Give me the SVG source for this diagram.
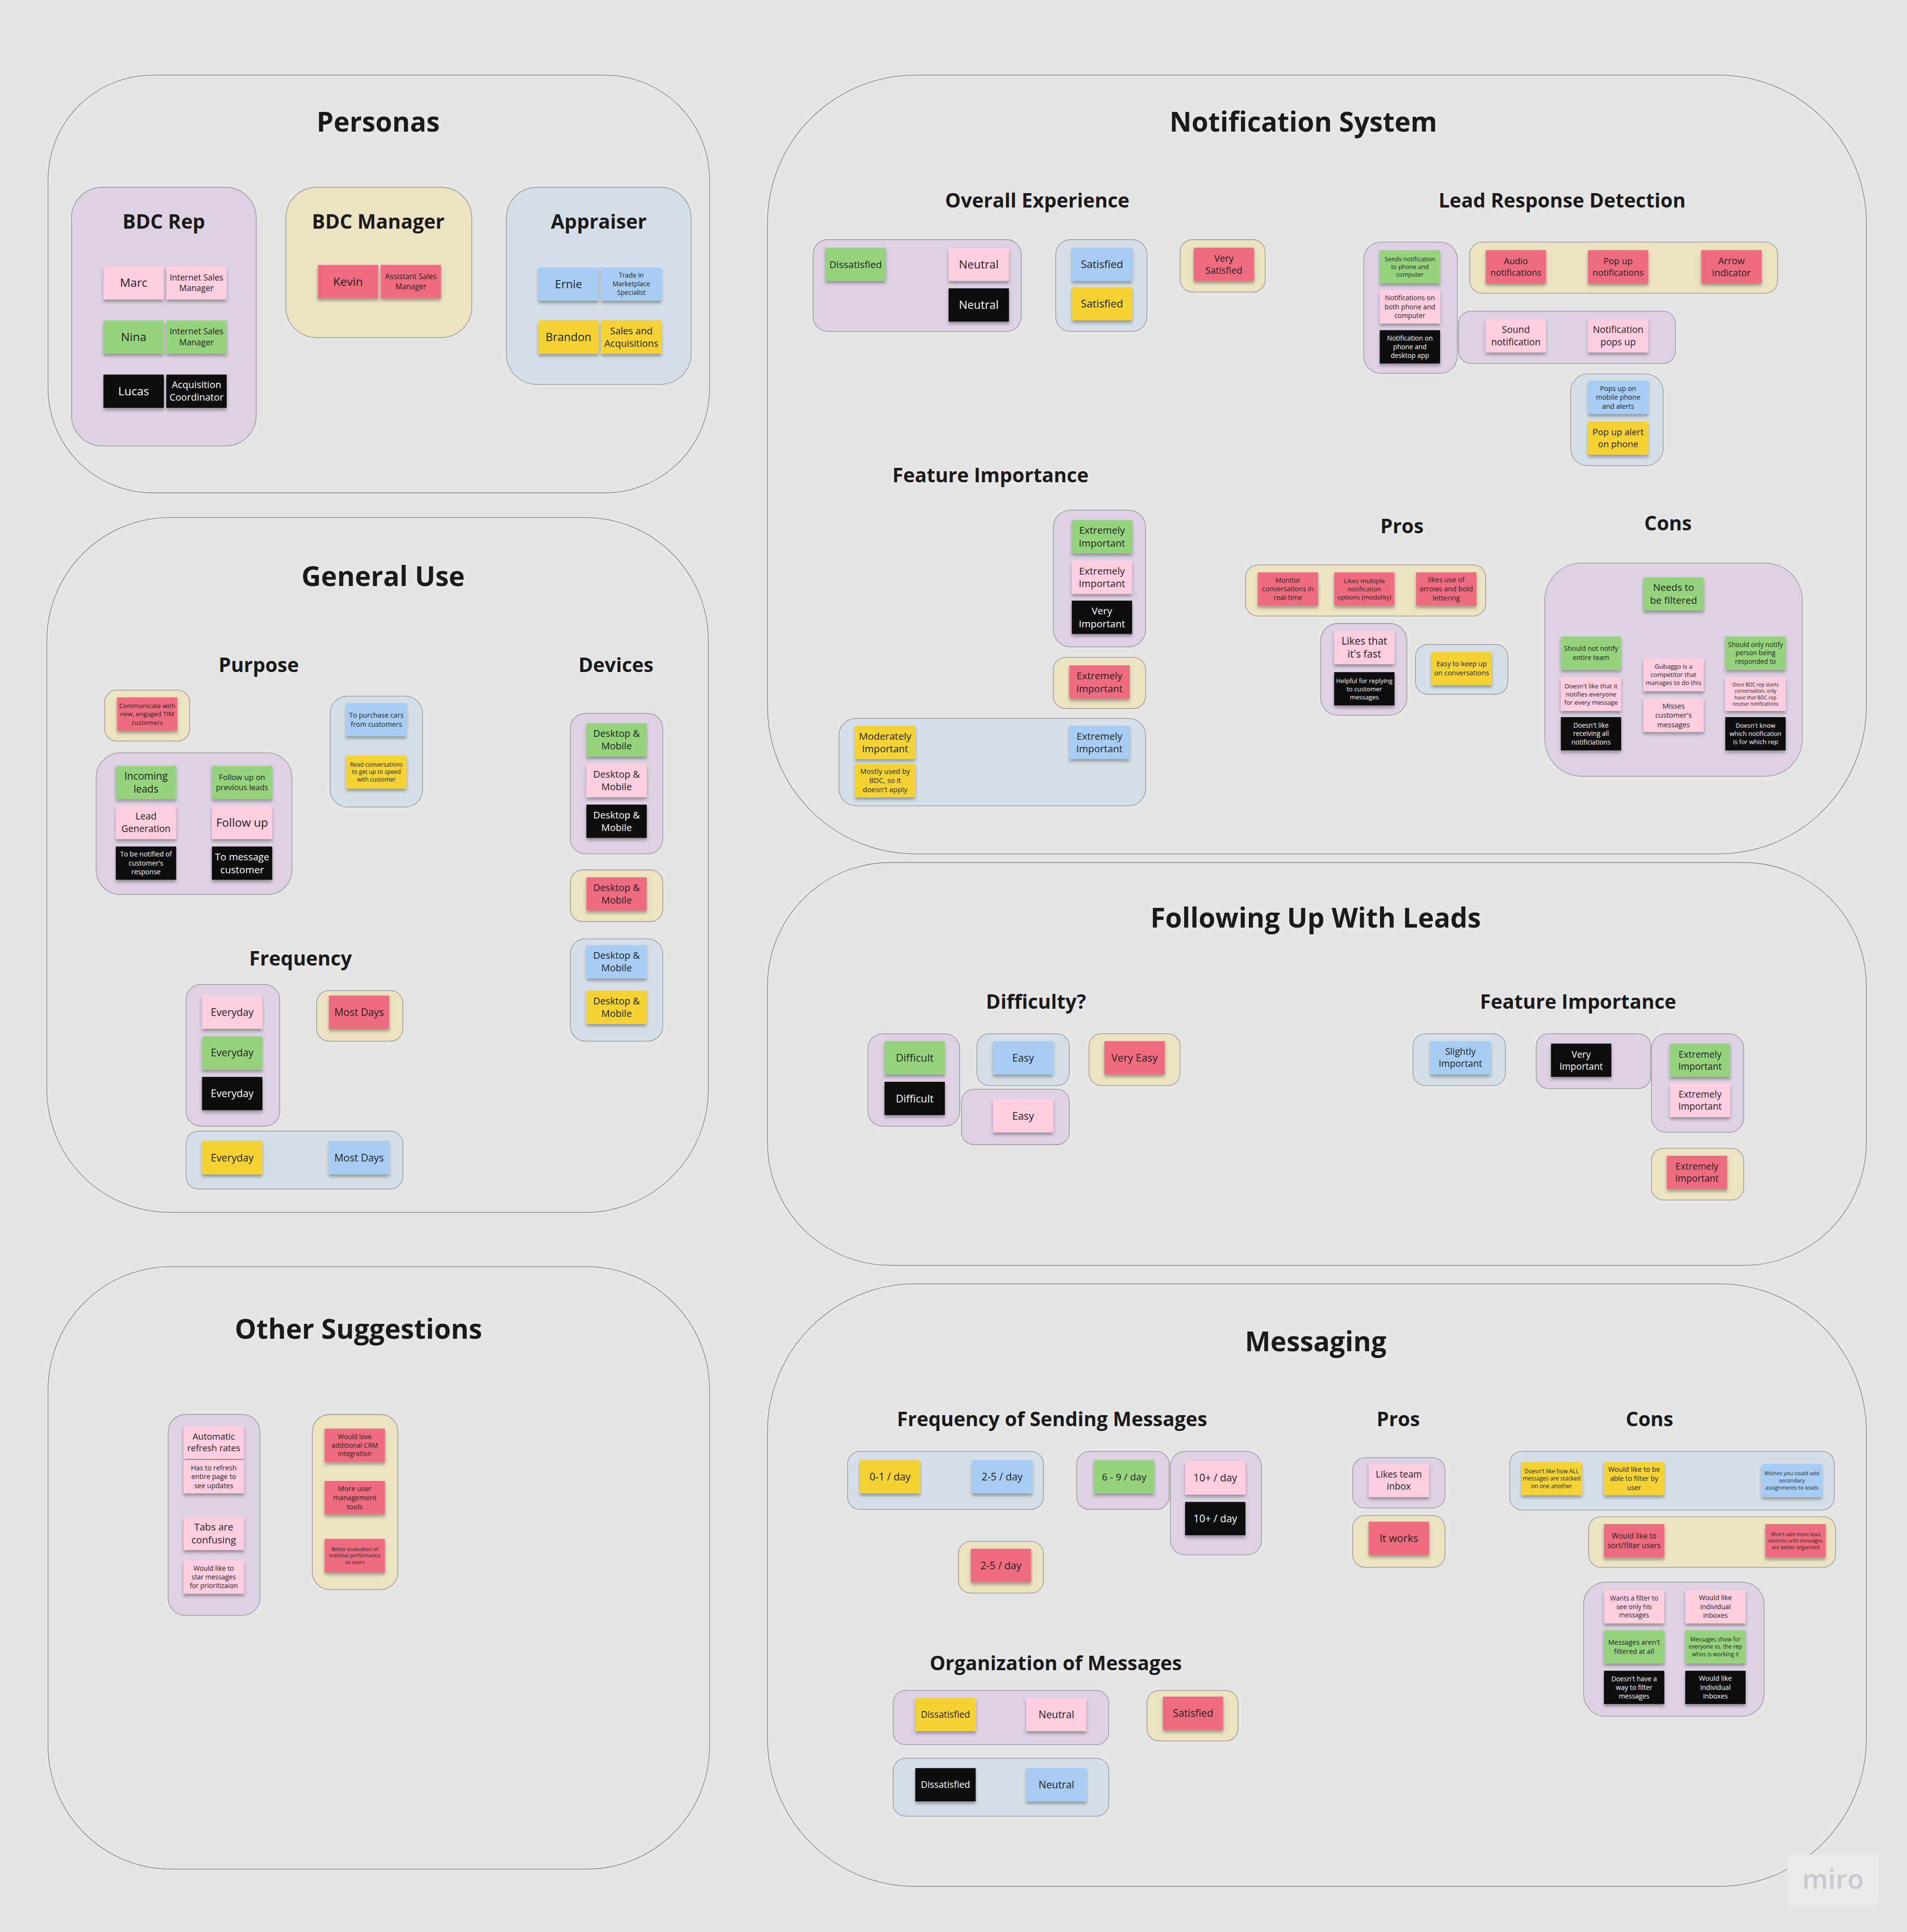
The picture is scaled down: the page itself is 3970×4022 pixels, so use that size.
<svg xmlns="http://www.w3.org/2000/svg" width="3970" height="4022" viewBox="0 0 3970 4022">
<defs>
<filter id="sh" x="-10%" y="-10%" width="120%" height="145%"><feDropShadow dx="0" dy="2" stdDeviation="1.2" flood-color="#000" flood-opacity="0.32"/></filter>
<style>
.s{filter:url(#sh)}
.pk{fill:#fecde0}.gr{fill:#95d37d}.bk{fill:#0b0b0b}.rd{fill:#ef6c80}.bl{fill:#a8cdf4}.yl{fill:#f5d330}
.c{stroke:#9c9c9c;stroke-width:.6}
.cp{fill:#ddd2e3}.cy{fill:#ece3c2}.cb{fill:#d6dfe8}
.f{fill:none;stroke:#7d7d7d;stroke-width:.5}
.t{font-family:'Open Sans','Liberation Sans',sans-serif;text-anchor:middle;fill:#1f1f1f}
.tw{fill:#ffffff}
.h1{font-family:'Open Sans','Liberation Sans',sans-serif;font-weight:700;font-size:22px;text-anchor:middle;fill:#1a1a1a}
.h2{font-family:'Open Sans','Liberation Sans',sans-serif;font-weight:700;font-size:16px;text-anchor:middle;fill:#1a1a1a}
</style>
</defs>
<rect x="0" y="0" width="3970" height="4022" fill="#e6e6e6"/>
<g transform="scale(2.5646 2.5650)">
<g id="frame-personas"><rect class="f" x="39" y="61" width="537" height="339" rx="85"/><text class="h1" x="307" y="106.7">Personas</text></g>
<g id="frame-notification"><rect class="f" x="623" y="61" width="892" height="632" rx="120"/><text class="h1" x="1058" y="106.7">Notification System</text>
<text class="h2" x="842" y="168.6">Overall Experience</text><text class="h2" x="1268" y="168.6">Lead Response Detection</text><text class="h2" x="804" y="391.6">Feature Importance</text><text class="h2" x="1138" y="432.6">Pros</text><text class="h2" x="1354" y="430.6">Cons</text></g>
<g id="frame-general"><rect class="f" x="38" y="420" width="537" height="564" rx="100"/><text class="h1" x="311" y="475.7">General Use</text>
<text class="h2" x="210" y="545.6">Purpose</text><text class="h2" x="500" y="545.6">Devices</text><text class="h2" x="244" y="783.6">Frequency</text></g>
<g id="frame-following"><rect class="f" x="623" y="700" width="892" height="327" rx="100"/><text class="h1" x="1068" y="752.7">Following Up With Leads</text>
<text class="h2" x="841" y="818.6">Difficulty?</text><text class="h2" x="1281" y="818.6">Feature Importance</text></g>
<g id="frame-other"><rect class="f" x="39" y="1028" width="537" height="489" rx="100"/><text class="h1" x="291" y="1086.7">Other Suggestions</text></g>
<g id="frame-messaging"><rect class="f" x="623" y="1042" width="892" height="489" rx="120"/><text class="h1" x="1068" y="1096.7">Messaging</text>
<text class="h2" x="854" y="1157.6">Frequency of Sending Messages</text><text class="h2" x="1135" y="1157.6">Pros</text><text class="h2" x="1339" y="1157.6">Cons</text><text class="h2" x="857" y="1355.6">Organization of Messages</text></g>

<g id="containers">
<g id="c1"><rect class="c cp" x="58" y="152" width="150" height="210" rx="25"/><text class="h2" x="133" y="185.6">BDC Rep</text></g>
<g id="c2"><rect class="c cy" x="232" y="152" width="151" height="122" rx="25"/><text class="h2" x="307" y="185.6">BDC Manager</text></g>
<g id="c3"><rect class="c cb" x="411" y="152" width="150" height="160" rx="25"/><text class="h2" x="486" y="185.6">Appraiser</text></g>
<g id="c4"><rect class="c cp" x="660" y="194.5" width="169" height="74.5" rx="12"/></g>
<g id="c5"><rect class="c cb" x="857" y="194.5" width="74" height="74.5" rx="12"/></g>
<g id="c6"><rect class="c cy" x="958" y="194.5" width="69" height="42.5" rx="10"/></g>
<g id="c7"><rect class="c cp" x="1107" y="196.5" width="76" height="106.5" rx="14"/></g>
<g id="c8"><rect class="c cy" x="1193" y="196.5" width="250" height="41.5" rx="10"/></g>
<g id="c9"><rect class="c cp" x="1184" y="252.5" width="176" height="42.5" rx="10"/></g>
<g id="c10"><rect class="c cb" x="1275" y="303.5" width="75" height="74.5" rx="14"/></g>
<g id="c11"><rect class="c cp" x="855" y="414" width="75" height="111" rx="14"/></g>
<g id="c12"><rect class="c cy" x="855" y="533.5" width="75" height="41.5" rx="10"/></g>
<g id="c13"><rect class="c cb" x="681" y="583" width="249" height="71" rx="14"/></g>
<g id="c14"><rect class="c cy" x="1011" y="458.5" width="195" height="41.5" rx="10"/></g>
<g id="c15"><rect class="c cp" x="1072" y="506" width="70" height="74.5" rx="14"/></g>
<g id="c16"><rect class="c cb" x="1149" y="523" width="75" height="40.5" rx="10"/></g>
<g id="c17"><rect class="c cp" x="1254" y="457" width="209" height="173" rx="30"/></g>
<g id="c18"><rect class="c cy" x="85" y="560" width="69" height="41.5" rx="10"/></g>
<g id="c19"><rect class="c cp" x="78" y="611" width="159" height="115" rx="20"/></g>
<g id="c20"><rect class="c cb" x="268" y="565" width="75" height="90" rx="14"/></g>
<g id="c21"><rect class="c cp" x="463" y="579" width="75" height="114" rx="12"/></g>
<g id="c22"><rect class="c cy" x="463" y="706" width="75" height="42" rx="10"/></g>
<g id="c23"><rect class="c cb" x="463" y="762" width="75" height="83" rx="12"/></g>
<g id="c24"><rect class="c cp" x="151" y="799" width="76" height="115" rx="12"/></g>
<g id="c25"><rect class="c cy" x="257" y="804" width="70" height="41" rx="10"/></g>
<g id="c26"><rect class="c cb" x="151" y="918" width="176" height="47" rx="10"/></g>
<g id="c27"><rect class="c cp" x="704.5" y="839" width="74.5" height="75" rx="12"/></g>
<g id="c28"><rect class="c cb" x="793" y="839" width="75" height="42" rx="10"/></g>
<g id="c29"><rect class="c cp" x="780.5" y="884" width="87.5" height="45" rx="10"/></g>
<g id="c30"><rect class="c cy" x="884" y="839" width="74" height="42" rx="10"/></g>
<g id="c31"><rect class="c cb" x="1147" y="839" width="75" height="42" rx="10"/></g>
<g id="c32"><rect class="c cp" x="1247" y="839" width="93" height="44.5" rx="10"/></g>
<g id="c33"><rect class="c cp" x="1340.5" y="839" width="75" height="80" rx="12"/></g>
<g id="c34"><rect class="c cy" x="1340.5" y="932" width="75" height="42" rx="10"/></g>
<g id="c35"><rect class="c cp" x="136.5" y="1148" width="74.5" height="163" rx="14"/></g>
<g id="c36"><rect class="c cy" x="253.5" y="1148" width="69.5" height="142" rx="14"/></g>
<g id="c37"><rect class="c cb" x="688" y="1178" width="159" height="47" rx="10"/></g>
<g id="c38"><rect class="c cp" x="874" y="1178" width="75" height="47" rx="10"/></g>
<g id="c39"><rect class="c cp" x="950" y="1178" width="74" height="84" rx="12"/></g>
<g id="c40"><rect class="c cy" x="778" y="1251" width="69" height="42" rx="10"/></g>
<g id="c41"><rect class="c cp" x="725" y="1372" width="175" height="44" rx="10"/></g>
<g id="c42"><rect class="c cy" x="931" y="1372" width="74" height="41" rx="10"/></g>
<g id="c43"><rect class="c cb" x="725" y="1427" width="175" height="47" rx="10"/></g>
<g id="c44"><rect class="c cp" x="1098" y="1183" width="75" height="41" rx="10"/></g>
<g id="c45"><rect class="c cy" x="1098" y="1230" width="75" height="42" rx="10"/></g>
<g id="c46"><rect class="c cb" x="1225.5" y="1178" width="263.5" height="47.5" rx="10"/></g>
<g id="c47"><rect class="c cy" x="1289.5" y="1231" width="200.5" height="41" rx="10"/></g>
<g id="c48"><rect class="c cp" x="1285.5" y="1284" width="146.5" height="109" rx="18"/></g>
</g>

<g id="stickies">
<g id="n1"><rect class="s pk" x="84" y="216" width="49" height="27"/><text class="t" x="108.5" y="232.9" font-size="9.5">Marc</text></g>
<g id="n2"><rect class="s pk" x="135" y="216" width="49" height="27"/><text class="t" x="159.5" y="227.5" font-size="6.8"><tspan x="159.5">Internet Sales</tspan><tspan x="159.5" dy="8.84">Manager</tspan></text></g>
<g id="n3"><rect class="s gr" x="84" y="260" width="49" height="27"/><text class="t" x="108.5" y="276.9" font-size="9.5">Nina</text></g>
<g id="n4"><rect class="s gr" x="135" y="260" width="49" height="27"/><text class="t" x="159.5" y="271.5" font-size="6.8"><tspan x="159.5">Internet Sales</tspan><tspan x="159.5" dy="8.84">Manager</tspan></text></g>
<g id="n5"><rect class="s bk" x="84" y="304" width="49" height="27"/><text class="t tw" x="108.5" y="320.9" font-size="9.5">Lucas</text></g>
<g id="n6"><rect class="s bk" x="135" y="304" width="49" height="27"/><text class="t tw" x="159.5" y="315.2" font-size="7.8"><tspan x="159.5">Acquisition</tspan><tspan x="159.5" dy="10.14">Coordinator</tspan></text></g>
<g id="n7"><rect class="s rd" x="258" y="215" width="49" height="27"/><text class="t" x="282.5" y="231.9" font-size="9.5">Kevin</text></g>
<g id="n8"><rect class="s rd" x="309" y="215" width="49" height="27"/><text class="t" x="333.5" y="226.7" font-size="6.1"><tspan x="333.5">Assistant Sales</tspan><tspan x="333.5" dy="7.93">Manager</tspan></text></g>
<g id="n9"><rect class="s bl" x="437" y="217" width="49" height="27"/><text class="t" x="461.5" y="233.8" font-size="9.2">Ernie</text></g>
<g id="n10"><rect class="s bl" x="488" y="217" width="49" height="27"/><text class="t" x="512.5" y="225.5" font-size="5.3"><tspan x="512.5">Trade In</tspan><tspan x="512.5" dy="6.89">Marketplace</tspan><tspan x="512.5" dy="6.89">Specialist</tspan></text></g>
<g id="n11"><rect class="s yl" x="437" y="260" width="49" height="27"/><text class="t" x="461.5" y="276.8" font-size="9.2">Brandon</text></g>
<g id="n12"><rect class="s yl" x="488" y="260" width="49" height="27"/><text class="t" x="512.5" y="271.2" font-size="7.8"><tspan x="512.5">Sales and</tspan><tspan x="512.5" dy="10.14">Acquisitions</tspan></text></g>

<g id="n13"><rect class="s gr" x="670" y="201" width="49" height="27"/><text class="t" x="694.5" y="217.4" font-size="8">Dissatisfied</text></g>
<g id="n14"><rect class="s pk" x="770" y="201" width="49" height="27"/><text class="t" x="794.5" y="217.8" font-size="9.2">Neutral</text></g>
<g id="n15"><rect class="s bk" x="770" y="234" width="49" height="27"/><text class="t tw" x="794.5" y="250.8" font-size="9.2">Neutral</text></g>
<g id="n16"><rect class="s bl" x="870" y="201" width="49" height="27"/><text class="t" x="894.5" y="217.6" font-size="8.7">Satisfied</text></g>
<g id="n17"><rect class="s yl" x="870" y="233" width="49" height="27"/><text class="t" x="894.5" y="249.6" font-size="8.7">Satisfied</text></g>
<g id="n18"><rect class="s rd" x="969" y="201" width="49" height="27"/><text class="t" x="993.5" y="212.3" font-size="7.6"><tspan x="993.5">Very</tspan><tspan x="993.5" dy="9.88">Satisfied</tspan></text></g>

<g id="n19"><rect class="s gr" x="1120" y="203" width="49" height="27"/><text class="t" x="1144.5" y="211.9" font-size="4.9"><tspan x="1144.5">Sends notification</tspan><tspan x="1144.5" dy="6.37">to phone and</tspan><tspan x="1144.5" dy="6.37">computer</tspan></text></g>
<g id="n20"><rect class="s pk" x="1120" y="235.5" width="49" height="27"/><text class="t" x="1144.5" y="243.8" font-size="5.5"><tspan x="1144.5">Notifications on</tspan><tspan x="1144.5" dy="7.15">both phone and</tspan><tspan x="1144.5" dy="7.15">computer</tspan></text></g>
<g id="n21"><rect class="s bk" x="1120" y="268" width="49" height="27"/><text class="t tw" x="1144.5" y="276.4" font-size="5.4"><tspan x="1144.5">Notification on</tspan><tspan x="1144.5" dy="7.02">phone and</tspan><tspan x="1144.5" dy="7.02">desktop app</tspan></text></g>
<g id="n22"><rect class="s rd" x="1206" y="203" width="49" height="27"/><text class="t" x="1230.5" y="214.4" font-size="7.2"><tspan x="1230.5">Audio</tspan><tspan x="1230.5" dy="9.36">notifications</tspan></text></g>
<g id="n23"><rect class="s rd" x="1289" y="203" width="49" height="27"/><text class="t" x="1313.5" y="214.4" font-size="7.2"><tspan x="1313.5">Pop up</tspan><tspan x="1313.5" dy="9.36">notifications</tspan></text></g>
<g id="n24"><rect class="s rd" x="1381" y="203" width="49" height="27"/><text class="t" x="1405.5" y="214.3" font-size="7.6"><tspan x="1405.5">Arrow</tspan><tspan x="1405.5" dy="9.88">indicator</tspan></text></g>
<g id="n25"><rect class="s pk" x="1206" y="259" width="49" height="27"/><text class="t" x="1230.5" y="270.3" font-size="7.6"><tspan x="1230.5">Sound</tspan><tspan x="1230.5" dy="9.88">notification</tspan></text></g>
<g id="n26"><rect class="s pk" x="1289" y="259" width="49" height="27"/><text class="t" x="1313.5" y="270.3" font-size="7.6"><tspan x="1313.5">Notification</tspan><tspan x="1313.5" dy="9.88">pops up</tspan></text></g>
<g id="n27"><rect class="s bl" x="1289" y="309" width="49" height="27"/><text class="t" x="1313.5" y="317.2" font-size="5.6"><tspan x="1313.5">Pops up on</tspan><tspan x="1313.5" dy="7.28">mobile phone</tspan><tspan x="1313.5" dy="7.28">and alerts</tspan></text></g>
<g id="n28"><rect class="s yl" x="1289" y="342" width="49" height="27"/><text class="t" x="1313.5" y="353.4" font-size="7.3"><tspan x="1313.5">Pop up alert</tspan><tspan x="1313.5" dy="9.49">on phone</tspan></text></g>

<g id="n29"><rect class="s gr" x="870" y="422" width="49" height="27"/><text class="t" x="894.5" y="433.2" font-size="8"><tspan x="894.5">Extremely</tspan><tspan x="894.5" dy="10.4">Important</tspan></text></g>
<g id="n30"><rect class="s pk" x="870" y="455" width="49" height="27"/><text class="t" x="894.5" y="466.2" font-size="8"><tspan x="894.5">Extremely</tspan><tspan x="894.5" dy="10.4">Important</tspan></text></g>
<g id="n31"><rect class="s bk" x="870" y="487.5" width="49" height="27"/><text class="t tw" x="894.5" y="498.7" font-size="8"><tspan x="894.5">Very</tspan><tspan x="894.5" dy="10.4">Important</tspan></text></g>
<g id="n32"><rect class="s rd" x="868" y="540" width="49" height="27"/><text class="t" x="892.5" y="551.2" font-size="8"><tspan x="892.5">Extremely</tspan><tspan x="892.5" dy="10.4">Important</tspan></text></g>
<g id="n33"><rect class="s yl" x="694" y="589" width="49" height="27"/><text class="t" x="718.5" y="600.2" font-size="8"><tspan x="718.5">Moderately</tspan><tspan x="718.5" dy="10.4">Important</tspan></text></g>
<g id="n34"><rect class="s yl" x="694" y="620" width="49" height="27"/><text class="t" x="718.5" y="628" font-size="5.8"><tspan x="718.5">Mostly used by</tspan><tspan x="718.5" dy="7.54">BDC, so it</tspan><tspan x="718.5" dy="7.54">doesn't apply</tspan></text></g>
<g id="n35"><rect class="s bl" x="868" y="589" width="49" height="27"/><text class="t" x="892.5" y="600.2" font-size="8"><tspan x="892.5">Extremely</tspan><tspan x="892.5" dy="10.4">Important</tspan></text></g>

<g id="n36"><rect class="s rd" x="1021" y="464.5" width="49" height="27"/><text class="t" x="1045.5" y="472.8" font-size="5.5"><tspan x="1045.5">Monitor</tspan><tspan x="1045.5" dy="7.15">conversations in</tspan><tspan x="1045.5" dy="7.15">real-time</tspan></text></g>
<g id="n37"><rect class="s rd" x="1083" y="464.5" width="49" height="27"/><text class="t" x="1107.5" y="473.1" font-size="5.2"><tspan x="1107.5">Likes multiple</tspan><tspan x="1107.5" dy="6.76">notification</tspan><tspan x="1107.5" dy="6.76">options (modality)</tspan></text></g>
<g id="n38"><rect class="s rd" x="1149.5" y="464.5" width="49" height="27"/><text class="t" x="1174" y="472.6" font-size="5.7"><tspan x="1174">likes use of</tspan><tspan x="1174" dy="7.41">arrows and bold</tspan><tspan x="1174" dy="7.41">lettering</tspan></text></g>
<g id="n39"><rect class="s pk" x="1083" y="512" width="49" height="27"/><text class="t" x="1107.5" y="523.1" font-size="8.3"><tspan x="1107.5">Likes that</tspan><tspan x="1107.5" dy="10.79">it's fast</tspan></text></g>
<g id="n40"><rect class="s bk" x="1083" y="545.5" width="49" height="27"/><text class="t tw" x="1107.5" y="554.2" font-size="5.1"><tspan x="1107.5">Helpful for replying</tspan><tspan x="1107.5" dy="6.63">to customer</tspan><tspan x="1107.5" dy="6.63">messages</tspan></text></g>
<g id="n41"><rect class="s yl" x="1162" y="529" width="49" height="27"/><text class="t" x="1186.5" y="540.9" font-size="5.6"><tspan x="1186.5">Easy to keep up</tspan><tspan x="1186.5" dy="7.28">on conversations</tspan></text></g>

<g id="n42"><rect class="s gr" x="1334" y="468.5" width="49" height="27"/><text class="t" x="1358.5" y="479.7" font-size="8"><tspan x="1358.5">Needs to</tspan><tspan x="1358.5" dy="10.4">be filtered</tspan></text></g>
<g id="n43"><rect class="s gr" x="1267" y="516.5" width="49" height="27"/><text class="t" x="1291.5" y="528.4" font-size="5.5"><tspan x="1291.5">Should not notify</tspan><tspan x="1291.5" dy="7.15">entire team</tspan></text></g>
<g id="n44"><rect class="s pk" x="1267" y="550" width="49" height="27"/><text class="t" x="1291.5" y="558.7" font-size="5.1"><tspan x="1291.5">Doesn't like that it</tspan><tspan x="1291.5" dy="6.63">notifies everyone</tspan><tspan x="1291.5" dy="6.63">for every message</tspan></text></g>
<g id="n45"><rect class="s bk" x="1267" y="582" width="49" height="27"/><text class="t tw" x="1291.5" y="590.5" font-size="5.3"><tspan x="1291.5">Doesn't like</tspan><tspan x="1291.5" dy="6.89">receiving all</tspan><tspan x="1291.5" dy="6.89">notificiations</tspan></text></g>
<g id="n46"><rect class="s pk" x="1334" y="534" width="49" height="27"/><text class="t" x="1358.5" y="542.7" font-size="5.1"><tspan x="1358.5">Gubaggo is a</tspan><tspan x="1358.5" dy="6.63">competitor that</tspan><tspan x="1358.5" dy="6.63">manages to do this</tspan></text></g>
<g id="n47"><rect class="s pk" x="1334" y="567" width="49" height="27"/><text class="t" x="1358.5" y="575.1" font-size="5.8"><tspan x="1358.5">Misses</tspan><tspan x="1358.5" dy="7.54">customer's</tspan><tspan x="1358.5" dy="7.54">messages</tspan></text></g>
<g id="n48"><rect class="s gr" x="1400.5" y="516.5" width="49" height="27"/><text class="t" x="1425" y="525" font-size="5.3"><tspan x="1425">Should only notify</tspan><tspan x="1425" dy="6.89">person being</tspan><tspan x="1425" dy="6.89">responded to</tspan></text></g>
<g id="n49"><rect class="s pk" x="1400.5" y="550" width="49" height="27"/><text class="t" x="1425" y="557.1" font-size="4"><tspan x="1425">Once BDC rep starts</tspan><tspan x="1425" dy="5.2">conversation, only</tspan><tspan x="1425" dy="5.2">have that BDC rep</tspan><tspan x="1425" dy="5.2">receive notifications</tspan></text></g>
<g id="n50"><rect class="s bk" x="1400.5" y="582" width="49" height="27"/><text class="t tw" x="1425" y="590.7" font-size="5.1"><tspan x="1425">Doesn't know</tspan><tspan x="1425" dy="6.63">which notification</tspan><tspan x="1425" dy="6.63">is for which rep</tspan></text></g>

<g id="n51"><rect class="s rd" x="95" y="566" width="49" height="27"/><text class="t" x="119.5" y="574.6" font-size="5.2"><tspan x="119.5">Communicate with</tspan><tspan x="119.5" dy="6.76">new, engaged TIM</tspan><tspan x="119.5" dy="6.76">customers</tspan></text></g>
<g id="n52"><rect class="s gr" x="94" y="621.5" width="49" height="27"/><text class="t" x="118.5" y="632.6" font-size="8.2"><tspan x="118.5">Incoming</tspan><tspan x="118.5" dy="10.66">leads</tspan></text></g>
<g id="n53"><rect class="s gr" x="172" y="621.5" width="49" height="27"/><text class="t" x="196.5" y="633.2" font-size="6.3"><tspan x="196.5">Follow up on</tspan><tspan x="196.5" dy="8.19">previous leads</tspan></text></g>
<g id="n54"><rect class="s pk" x="94" y="654" width="49" height="27"/><text class="t" x="118.5" y="665.3" font-size="7.6"><tspan x="118.5">Lead</tspan><tspan x="118.5" dy="9.88">Generation</tspan></text></g>
<g id="n55"><rect class="s pk" x="172" y="654" width="49" height="27"/><text class="t" x="196.5" y="670.9" font-size="9.4">Follow up</text></g>
<g id="n56"><rect class="s bk" x="94" y="687" width="49" height="27"/><text class="t tw" x="118.5" y="695.3" font-size="5.5"><tspan x="118.5">To be notified of</tspan><tspan x="118.5" dy="7.15">customer's</tspan><tspan x="118.5" dy="7.15">response</tspan></text></g>
<g id="n57"><rect class="s bk" x="172" y="687" width="49" height="27"/><text class="t tw" x="196.5" y="698.2" font-size="8"><tspan x="196.5">To message</tspan><tspan x="196.5" dy="10.4">customer</tspan></text></g>
<g id="n58"><rect class="s bl" x="281" y="570.5" width="49" height="27"/><text class="t" x="305.5" y="582.4" font-size="5.6"><tspan x="305.5">To purchase cars</tspan><tspan x="305.5" dy="7.28">from customers</tspan></text></g>
<g id="n59"><rect class="s yl" x="281" y="613" width="49" height="27"/><text class="t" x="305.5" y="622.1" font-size="4.7"><tspan x="305.5">Read conversations</tspan><tspan x="305.5" dy="6.11">to get up to speed</tspan><tspan x="305.5" dy="6.11">with customer</tspan></text></g>

<g id="n60"><rect class="s gr" x="476" y="587" width="49" height="27"/><text class="t" x="500.5" y="598.2" font-size="7.8"><tspan x="500.5">Desktop &amp;</tspan><tspan x="500.5" dy="10.14">Mobile</tspan></text></g>
<g id="n61"><rect class="s pk" x="476" y="620" width="49" height="27"/><text class="t" x="500.5" y="631.2" font-size="7.8"><tspan x="500.5">Desktop &amp;</tspan><tspan x="500.5" dy="10.14">Mobile</tspan></text></g>
<g id="n62"><rect class="s bk" x="476" y="653" width="49" height="27"/><text class="t tw" x="500.5" y="664.2" font-size="7.8"><tspan x="500.5">Desktop &amp;</tspan><tspan x="500.5" dy="10.14">Mobile</tspan></text></g>
<g id="n63"><rect class="s rd" x="476" y="712" width="49" height="27"/><text class="t" x="500.5" y="723.2" font-size="7.8"><tspan x="500.5">Desktop &amp;</tspan><tspan x="500.5" dy="10.14">Mobile</tspan></text></g>
<g id="n64"><rect class="s bl" x="476" y="767" width="49" height="27"/><text class="t" x="500.5" y="778.2" font-size="7.8"><tspan x="500.5">Desktop &amp;</tspan><tspan x="500.5" dy="10.14">Mobile</tspan></text></g>
<g id="n65"><rect class="s yl" x="476" y="804" width="49" height="27"/><text class="t" x="500.5" y="815.2" font-size="7.8"><tspan x="500.5">Desktop &amp;</tspan><tspan x="500.5" dy="10.14">Mobile</tspan></text></g>

<g id="n66"><rect class="s pk" x="164" y="808" width="49" height="27"/><text class="t" x="188.5" y="824.5" font-size="8.3">Everyday</text></g>
<g id="n67"><rect class="s gr" x="164" y="841" width="49" height="27"/><text class="t" x="188.5" y="857.5" font-size="8.3">Everyday</text></g>
<g id="n68"><rect class="s bk" x="164" y="874" width="49" height="27"/><text class="t tw" x="188.5" y="890.5" font-size="8.3">Everyday</text></g>
<g id="n69"><rect class="s rd" x="267" y="808" width="49" height="27"/><text class="t" x="291.5" y="824.5" font-size="8.3">Most Days</text></g>
<g id="n70"><rect class="s yl" x="164" y="926" width="49" height="27"/><text class="t" x="188.5" y="942.5" font-size="8.3">Everyday</text></g>
<g id="n71"><rect class="s bl" x="267" y="926" width="49" height="27"/><text class="t" x="291.5" y="942.5" font-size="8.3">Most Days</text></g>

<g id="n72"><rect class="s gr" x="718" y="845" width="49" height="27"/><text class="t" x="742.5" y="861.6" font-size="8.5">Difficult</text></g>
<g id="n73"><rect class="s bk" x="718" y="878" width="49" height="27"/><text class="t tw" x="742.5" y="894.6" font-size="8.5">Difficult</text></g>
<g id="n74"><rect class="s bl" x="806" y="845" width="49" height="27"/><text class="t" x="830.5" y="861.6" font-size="8.5">Easy</text></g>
<g id="n75"><rect class="s pk" x="806" y="892" width="49" height="27"/><text class="t" x="830.5" y="908.6" font-size="8.5">Easy</text></g>
<g id="n76"><rect class="s rd" x="896.5" y="845" width="49" height="27"/><text class="t" x="921" y="861.6" font-size="8.5">Very Easy</text></g>
<g id="n77"><rect class="s bl" x="1161" y="845" width="49" height="27"/><text class="t" x="1185.5" y="856.3" font-size="7.5"><tspan x="1185.5">Slightly</tspan><tspan x="1185.5" dy="9.75">Important</tspan></text></g>
<g id="n78"><rect class="s bk" x="1259" y="847" width="49" height="27"/><text class="t tw" x="1283.5" y="858.3" font-size="7.5"><tspan x="1283.5">Very</tspan><tspan x="1283.5" dy="9.75">Important</tspan></text></g>
<g id="n79"><rect class="s gr" x="1355.5" y="847" width="49" height="27"/><text class="t" x="1380" y="858.3" font-size="7.5"><tspan x="1380">Extremely</tspan><tspan x="1380" dy="9.75">Important</tspan></text></g>
<g id="n80"><rect class="s pk" x="1355.5" y="879.5" width="49" height="27"/><text class="t" x="1380" y="890.8" font-size="7.5"><tspan x="1380">Extremely</tspan><tspan x="1380" dy="9.75">Important</tspan></text></g>
<g id="n81"><rect class="s rd" x="1353" y="938" width="49" height="27"/><text class="t" x="1377.5" y="949.3" font-size="7.5"><tspan x="1377.5">Extremely</tspan><tspan x="1377.5" dy="9.75">Important</tspan></text></g>

<g id="n82"><rect class="s pk" x="149" y="1157" width="49" height="27"/><text class="t" x="173.5" y="1168.4" font-size="7.2"><tspan x="173.5">Automatic</tspan><tspan x="173.5" dy="9.36">refresh rates</tspan></text></g>
<g id="n83"><rect class="s pk" x="149" y="1185" width="49" height="27"/><text class="t" x="173.5" y="1193.2" font-size="5.6"><tspan x="173.5">Has to refresh</tspan><tspan x="173.5" dy="7.28">entire page to</tspan><tspan x="173.5" dy="7.28">see updates</tspan></text></g>
<g id="n84"><rect class="s pk" x="149" y="1231" width="49" height="27"/><text class="t" x="173.5" y="1242.2" font-size="8"><tspan x="173.5">Tabs are</tspan><tspan x="173.5" dy="10.4">confusing</tspan></text></g>
<g id="n85"><rect class="s pk" x="149" y="1266.5" width="49" height="27"/><text class="t" x="173.5" y="1274.9" font-size="5.4"><tspan x="173.5">Would like to</tspan><tspan x="173.5" dy="7.02">star messages</tspan><tspan x="173.5" dy="7.02">for prioritizaion</tspan></text></g>
<g id="n86"><rect class="s rd" x="263.5" y="1159.5" width="49" height="27"/><text class="t" x="288" y="1168" font-size="5.3"><tspan x="288">Would love</tspan><tspan x="288" dy="6.89">additional CRM</tspan><tspan x="288" dy="6.89">integration</tspan></text></g>
<g id="n87"><rect class="s rd" x="263.5" y="1202" width="49" height="27"/><text class="t" x="288" y="1210.1" font-size="5.7"><tspan x="288">More user</tspan><tspan x="288" dy="7.41">management</tspan><tspan x="288" dy="7.41">tools</tspan></text></g>
<g id="n88"><rect class="s rd" x="263.5" y="1249" width="49" height="27"/><text class="t" x="288" y="1258.7" font-size="4.1"><tspan x="288">Better evaluation of</tspan><tspan x="288" dy="5.33">individal performance</tspan><tspan x="288" dy="5.33">os users</tspan></text></g>

<g id="n89"><rect class="s yl" x="698" y="1185" width="49" height="27"/><text class="t" x="722.5" y="1201.5" font-size="8.3">0-1 / day</text></g>
<g id="n90"><rect class="s bl" x="789" y="1185" width="49" height="27"/><text class="t" x="813.5" y="1201.5" font-size="8.3">2-5 / day</text></g>
<g id="n91"><rect class="s gr" x="888" y="1185" width="49" height="27"/><text class="t" x="912.5" y="1201.4" font-size="8">6 - 9 / day</text></g>
<g id="n92"><rect class="s pk" x="962" y="1186" width="49" height="27"/><text class="t" x="986.5" y="1202.5" font-size="8.3">10+ / day</text></g>
<g id="n93"><rect class="s bk" x="962" y="1219" width="49" height="27"/><text class="t tw" x="986.5" y="1235.5" font-size="8.3">10+ / day</text></g>
<g id="n94"><rect class="s rd" x="788" y="1257" width="49" height="27"/><text class="t" x="812.5" y="1273.5" font-size="8.3">2-5 / day</text></g>
<g id="n95"><rect class="s yl" x="743" y="1378" width="49" height="27"/><text class="t" x="767.5" y="1394.2" font-size="7.5">Dissatisfied</text></g>
<g id="n96"><rect class="s pk" x="833" y="1378" width="49" height="27"/><text class="t" x="857.5" y="1394.5" font-size="8.3">Neutral</text></g>
<g id="n97"><rect class="s rd" x="944" y="1377" width="49" height="27"/><text class="t" x="968.5" y="1393.5" font-size="8.3">Satisfied</text></g>
<g id="n98"><rect class="s bk" x="743" y="1435" width="49" height="27"/><text class="t tw" x="767.5" y="1451.2" font-size="7.5">Dissatisfied</text></g>
<g id="n99"><rect class="s bl" x="833" y="1435" width="49" height="27"/><text class="t" x="857.5" y="1451.5" font-size="8.3">Neutral</text></g>
<g id="n100"><rect class="s pk" x="1111" y="1188" width="49" height="27"/><text class="t" x="1135.5" y="1199.3" font-size="7.5"><tspan x="1135.5">Likes team</tspan><tspan x="1135.5" dy="9.75">inbox</tspan></text></g>
<g id="n101"><rect class="s rd" x="1111" y="1235" width="49" height="27"/><text class="t" x="1135.5" y="1251.6" font-size="8.5">It works</text></g>
<g id="n102"><rect class="s yl" x="1235" y="1186.5" width="49" height="27"/><text class="t" x="1259.5" y="1195.7" font-size="4.6"><tspan x="1259.5">Doesn't like how ALL</tspan><tspan x="1259.5" dy="5.98">messages are stacked</tspan><tspan x="1259.5" dy="5.98">on one another</tspan></text></g>
<g id="n103"><rect class="s yl" x="1302" y="1186.5" width="49" height="27"/><text class="t" x="1326.5" y="1194.7" font-size="5.6"><tspan x="1326.5">Would like to be</tspan><tspan x="1326.5" dy="7.28">able to filter by</tspan><tspan x="1326.5" dy="7.28">user</tspan></text></g>
<g id="n104"><rect class="s bl" x="1430" y="1188" width="49" height="27"/><text class="t" x="1454.5" y="1197.4" font-size="4.4"><tspan x="1454.5">Wishes you could add</tspan><tspan x="1454.5" dy="5.72">secondary</tspan><tspan x="1454.5" dy="5.72">assignments to leads</tspan></text></g>
<g id="n105"><rect class="s rd" x="1302" y="1237" width="49" height="27"/><text class="t" x="1326.5" y="1248.8" font-size="6"><tspan x="1326.5">Would like to</tspan><tspan x="1326.5" dy="7.8">sort/filter users</tspan></text></g>
<g id="n106"><rect class="s rd" x="1433" y="1237" width="49" height="27"/><text class="t" x="1457.5" y="1246.7" font-size="4.1"><tspan x="1457.5">Won't add more lead</tspan><tspan x="1457.5" dy="5.33">sources until messages</tspan><tspan x="1457.5" dy="5.33">are better organized</tspan></text></g>
<g id="n107"><rect class="s pk" x="1302" y="1290.5" width="49" height="27"/><text class="t" x="1326.5" y="1299" font-size="5.3"><tspan x="1326.5">Wants a filter to</tspan><tspan x="1326.5" dy="6.89">see only his</tspan><tspan x="1326.5" dy="6.89">messages</tspan></text></g>
<g id="n108"><rect class="s pk" x="1368" y="1290.5" width="49" height="27"/><text class="t" x="1392.5" y="1298.8" font-size="5.5"><tspan x="1392.5">Would like</tspan><tspan x="1392.5" dy="7.15">individual</tspan><tspan x="1392.5" dy="7.15">inboxes</tspan></text></g>
<g id="n109"><rect class="s gr" x="1302" y="1323" width="49" height="27"/><text class="t" x="1326.5" y="1334.9" font-size="5.6"><tspan x="1326.5">Messages aren't</tspan><tspan x="1326.5" dy="7.28">filtered at all</tspan></text></g>
<g id="n110"><rect class="s gr" x="1368" y="1323" width="49" height="27"/><text class="t" x="1392.5" y="1332.2" font-size="4.6"><tspan x="1392.5">Messages show for</tspan><tspan x="1392.5" dy="5.98">everyone vs. the rep</tspan><tspan x="1392.5" dy="5.98">whos is working it</tspan></text></g>
<g id="n111"><rect class="s bk" x="1302" y="1356" width="49" height="27"/><text class="t tw" x="1326.5" y="1364.4" font-size="5.4"><tspan x="1326.5">Doesn't have a</tspan><tspan x="1326.5" dy="7.02">way to filter</tspan><tspan x="1326.5" dy="7.02">messages</tspan></text></g>
<g id="n112"><rect class="s bk" x="1368" y="1356" width="49" height="27"/><text class="t tw" x="1392.5" y="1364.3" font-size="5.5"><tspan x="1392.5">Would like</tspan><tspan x="1392.5" dy="7.15">individual</tspan><tspan x="1392.5" dy="7.15">inboxes</tspan></text></g>
</g>
<g id="connectors"></g>
<g id="watermark"><rect x="1451" y="1505.5" width="73.5" height="38.5" fill="#ebebeb"/><text x="1488" y="1533" font-family="'Open Sans','Liberation Sans',sans-serif" font-size="22" font-weight="600" text-anchor="middle" fill="#c9c9d1">miro</text></g>
</g>
</svg>
